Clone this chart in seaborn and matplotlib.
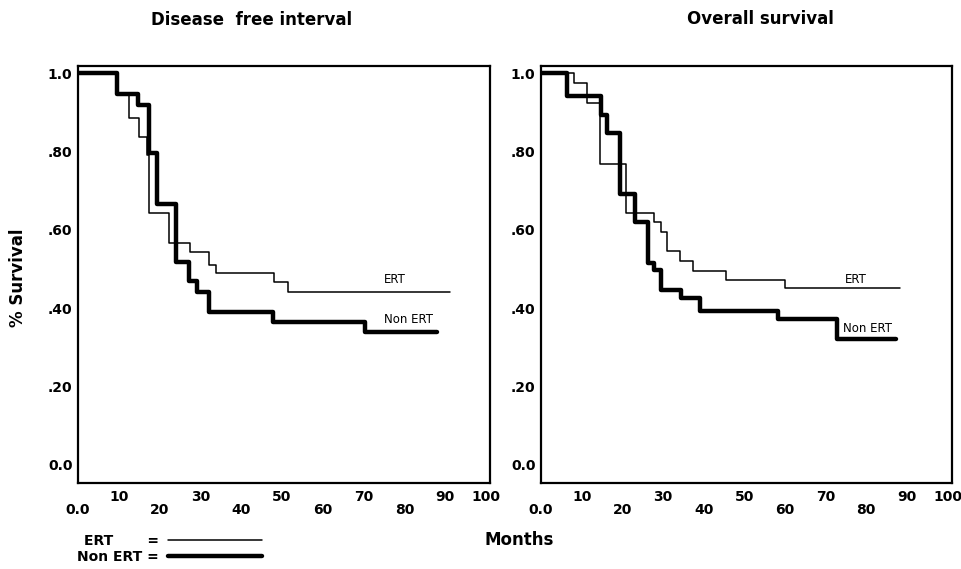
import matplotlib
matplotlib.use("Agg")
import matplotlib.pyplot as plt
import seaborn as sns
import pandas as pd
from matplotlib.lines import Line2D

# ---------------- data ----------------
panel_titles = ["Disease  free interval", "Overall survival"]
group_names = ["ERT", "Non ERT"]

# Disease free interval
dfi_ert_months = [0, 9.6, 12.5, 15.0, 17.0, 17.5, 22.3, 27.5, 32.0, 33.8, 48.1, 51.6, 91.2]
dfi_ert_surv = [1.0, 0.948, 0.886, 0.836, 0.791, 0.642, 0.566, 0.543, 0.510, 0.491, 0.466, 0.441, 0.441]
dfi_non_months = [0, 9.6, 14.6, 17.5, 19.3, 24.1, 27.3, 29.1, 32.2, 47.9, 70.3, 87.9]
dfi_non_surv = [1.0, 0.948, 0.918, 0.795, 0.666, 0.519, 0.470, 0.442, 0.389, 0.366, 0.340, 0.340]

# Overall survival
os_ert_months = [0, 8.0, 11.4, 14.5, 20.9, 27.7, 29.5, 31.0, 34.1, 37.5, 45.5, 60.1, 88.4]
os_ert_surv = [1.0, 0.974, 0.924, 0.768, 0.644, 0.621, 0.595, 0.547, 0.521, 0.495, 0.472, 0.452, 0.452]
os_non_months = [0, 6.3, 14.8, 16.2, 19.5, 23.2, 26.2, 27.7, 29.6, 34.5, 39.2, 58.4, 72.8, 87.2]
os_non_surv = [1.0, 0.942, 0.893, 0.846, 0.691, 0.621, 0.516, 0.497, 0.446, 0.425, 0.394, 0.372, 0.321, 0.321]

upper_xticks = [10, 30, 50, 70, 90, 100]
upper_xlabels = ["10", "30", "50", "70", "90", "100"]
lower_xticks = [0, 20, 40, 60, 80]
lower_xlabels = ["0.0", "20", "40", "60", "80"]
yticks = [0.0, 0.2, 0.4, 0.6, 0.8, 1.0]
ylabels = ["0.0", ".20", ".40", ".60", ".80", "1.0"]

# inline curve labels (months, survival) per panel
label_pos = {
    0: {"ERT": (77.7, 0.472), "Non ERT": (81.1, 0.370)},
    1: {"ERT": (77.3, 0.474), "Non ERT": (80.2, 0.347)},
}

# ---------------- style ----------------
sns.set_style("white")
plt.rcParams["font.family"] = ["DejaVu Sans"]
plt.rcParams.update({"text.color": "black", "xtick.color": "black",
                     "ytick.color": "black", "axes.labelcolor": "black",
                     "axes.edgecolor": "black"})

W, H = 962, 569
fig = plt.figure(figsize=(W / 100, H / 100), dpi=100)

def fx(px):
    return px / W

def fy(py):
    return 1 - py / H

ax_boxes = [
    [fx(78), fy(483.3), fx(490) - fx(78), fy(65.7) - fy(483.3)],
    [fx(541), fy(483.3), fx(951.7) - fx(541), fy(65.7) - fy(483.3)],
]

frames = [
    (pd.DataFrame({"Months": dfi_ert_months, "Survival": dfi_ert_surv}),
     pd.DataFrame({"Months": dfi_non_months, "Survival": dfi_non_surv})),
    (pd.DataFrame({"Months": os_ert_months, "Survival": os_ert_surv}),
     pd.DataFrame({"Months": os_non_months, "Survival": os_non_surv})),
]

thin_lw, thick_lw = 1.1, 3.2
for i, box in enumerate(ax_boxes):
    ax = fig.add_axes(box)
    ert_df, non_df = frames[i]
    sns.lineplot(data=ert_df, x="Months", y="Survival", ax=ax, color="black",
                 lw=thin_lw, drawstyle="steps-post", estimator=None, legend=False)
    sns.lineplot(data=non_df, x="Months", y="Survival", ax=ax, color="black",
                 lw=thick_lw, drawstyle="steps-post", estimator=None, legend=False)
    ax.set_xlim(0, 101)
    ax.set_ylim(-0.047, 1.019)
    ax.set_xlabel("")
    ax.set_ylabel("")
    for sp in ax.spines.values():
        sp.set_visible(True)
        sp.set_color("black")
        sp.set_linewidth(1.6)

    ax.set_xticks(upper_xticks)
    ax.set_xticklabels(upper_xlabels)
    ax.set_xticks(lower_xticks, minor=True)
    ax.set_xticklabels(lower_xlabels, minor=True)
    ax.tick_params(axis="x", which="major", length=0, pad=5, labelsize=10)
    ax.tick_params(axis="x", which="minor", length=0, pad=14.5, labelsize=10)
    ax.set_yticks(yticks)
    ax.set_yticklabels(ylabels)
    ax.tick_params(axis="y", length=0, pad=4, labelsize=10)
    for lab in ax.get_xticklabels(which="both") + ax.get_yticklabels():
        lab.set_fontweight("bold")

    for name in group_names:
        mx, my = label_pos[i][name]
        ax.text(mx, my, name, ha="center", va="center", fontsize=8.5)

fig.text(fx(252), fy(20), panel_titles[0], ha="center", va="center",
         fontsize=12, fontweight="bold")
fig.text(fx(760), fy(19), panel_titles[1], ha="center", va="center",
         fontsize=12, fontweight="bold")
fig.text(fx(18), fy(278), "% Survival", rotation=90, ha="center", va="center",
         fontsize=12, fontweight="bold")
fig.text(fx(519), fy(540), "Months", ha="center", va="center",
         fontsize=12, fontweight="bold")

handles = [Line2D([], [], color="black", lw=thin_lw),
           Line2D([], [], color="black", lw=thick_lw)]
fig.legend(handles, ["ERT       =", "Non ERT ="], loc="center left",
           bbox_to_anchor=(fx(77), fy(549)), markerfirst=False, frameon=False,
           borderpad=0, borderaxespad=0,
           handlelength=6.8, handletextpad=0.65, labelspacing=0.1,
           prop={"weight": "bold", "size": 10})

fig.savefig("out.png", dpi=100)
